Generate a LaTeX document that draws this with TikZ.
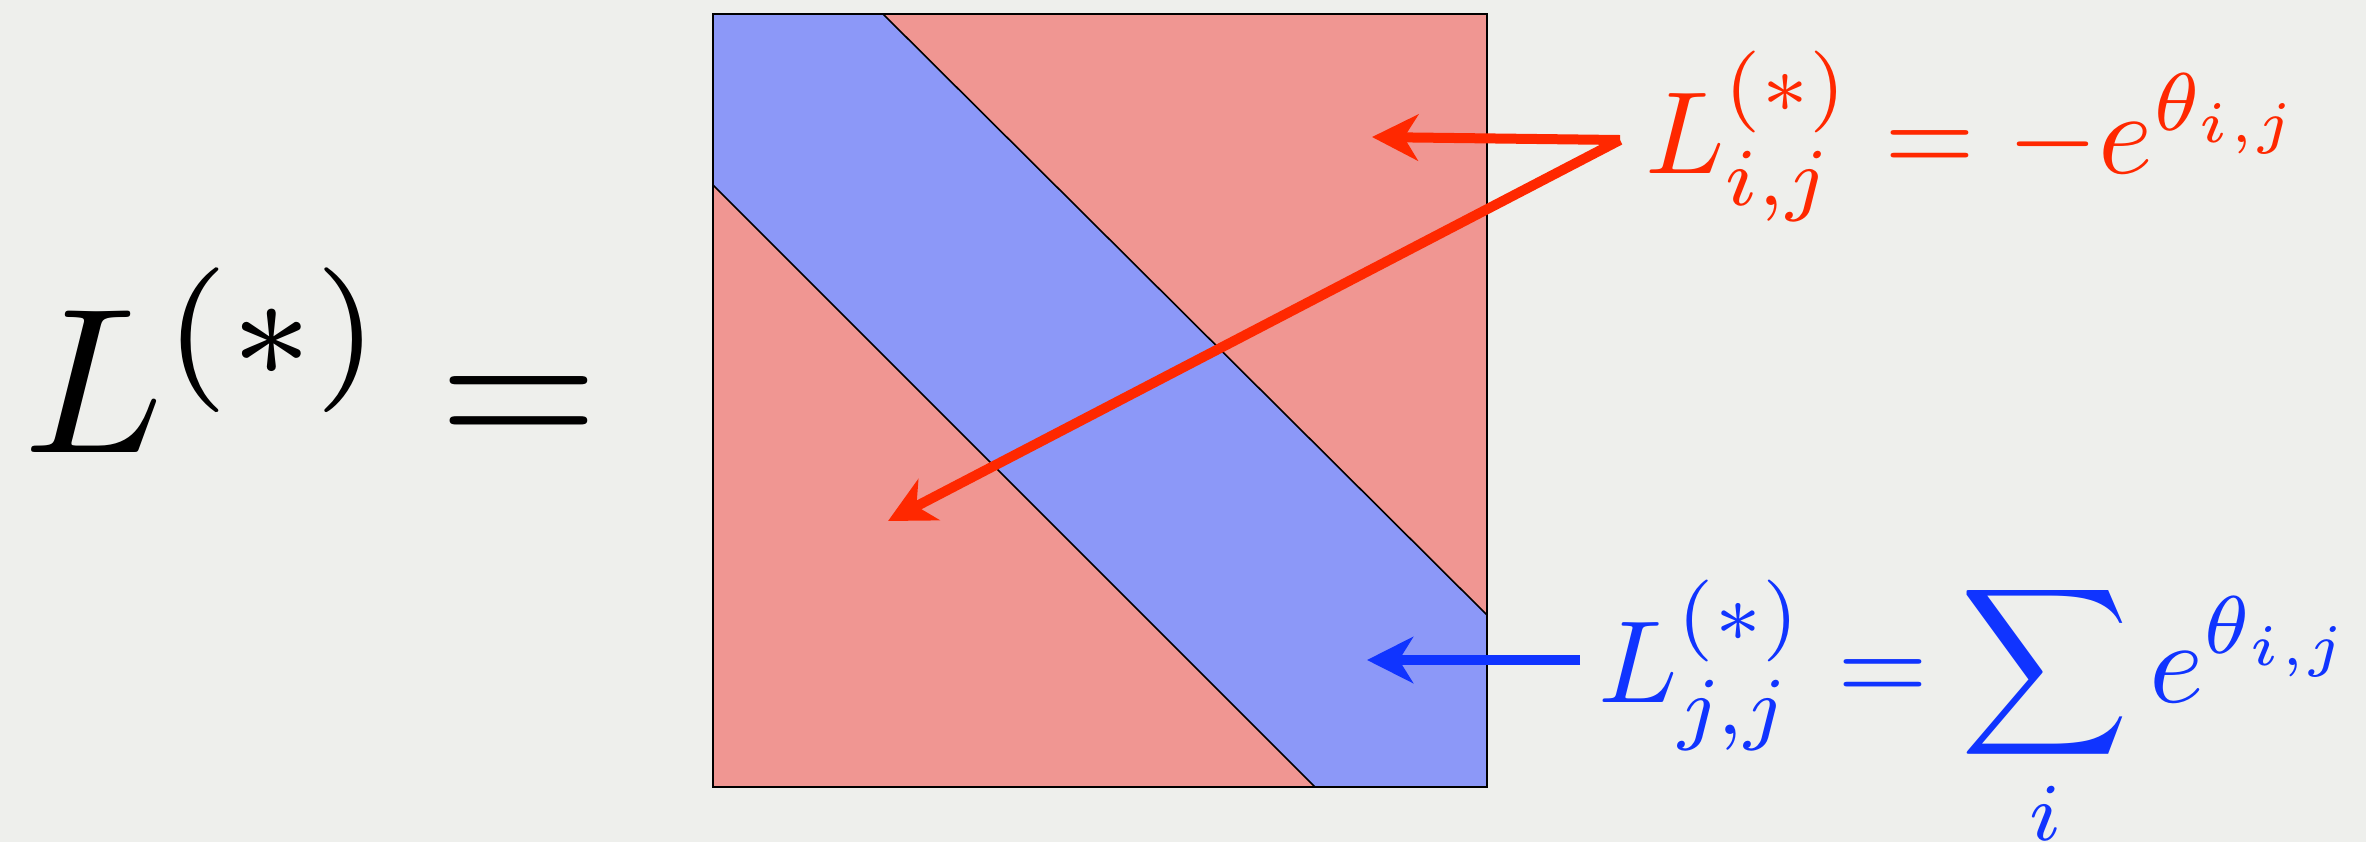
\documentclass[tikz,border=0pt]{standalone}
\usepackage{graphicx}
\usetikzlibrary{arrows.meta}
\definecolor{bg}{RGB}{238,239,236}
\definecolor{bandblue}{RGB}{140,152,248}
\definecolor{cellred}{RGB}{240,150,146}
\definecolor{txtred}{RGB}{255,40,0}
\definecolor{txtblue}{RGB}{16,52,255}
\begin{document}
\begin{tikzpicture}[x=0.5pt,y=-0.5pt,
  lbl/.style={anchor=base west, inner sep=0pt, outer sep=0pt},
  ptr/.style={line width=5pt, -{Stealth[length=23pt,width=23pt,inset=7pt]}},
  edge/.style={line width=0.8pt, black}]
\fill[bg] (0,0) rectangle (2366,842);
\useasboundingbox (0,0) rectangle (2366,842);
% matrix square
\fill[cellred] (713,14) rectangle (1487,787);
\fill[bandblue] (713,14) -- (883,14) -- (1487,615) -- (1487,787) -- (1315,787) -- (713,185) -- cycle;
\draw[edge] (883,14) -- (1487,615);
\draw[edge] (713,185) -- (1315,787);
\draw[line width=1.2pt] (713,14) rectangle (1487,787);
% labels
\node[lbl] (lhs) at (24,452) {\scalebox{10.35}{$L^{(*)}$}};
\node[lbl] (eq) at (438,452) {\scalebox{10.35}{$=$}};
\node[lbl, text=txtred] (redf) at (1645,173) {\scalebox{5.85}{$L^{(*)}_{i,j} = -e^{\theta_{i,j}}$}};
\node[lbl, text=txtblue] (bluef) at (1598,702) {\scalebox{5.85}{$\displaystyle L^{(*)}_{j,j} = \sum_i e^{\theta_{i,j}}$}};
% arrows
\coordinate (rtail) at (1620,140);
\coordinate (rt1) at (1372,137);
\coordinate (rt2) at (888,521);
\coordinate (btail) at (1580,660);
\coordinate (bt) at (1367,660);
\draw[ptr, txtred] (rtail) -- (rt1);
\draw[ptr, txtred] (rtail) -- (rt2);
\draw[ptr, txtblue] (btail) -- (bt);
\end{tikzpicture}
\end{document}
